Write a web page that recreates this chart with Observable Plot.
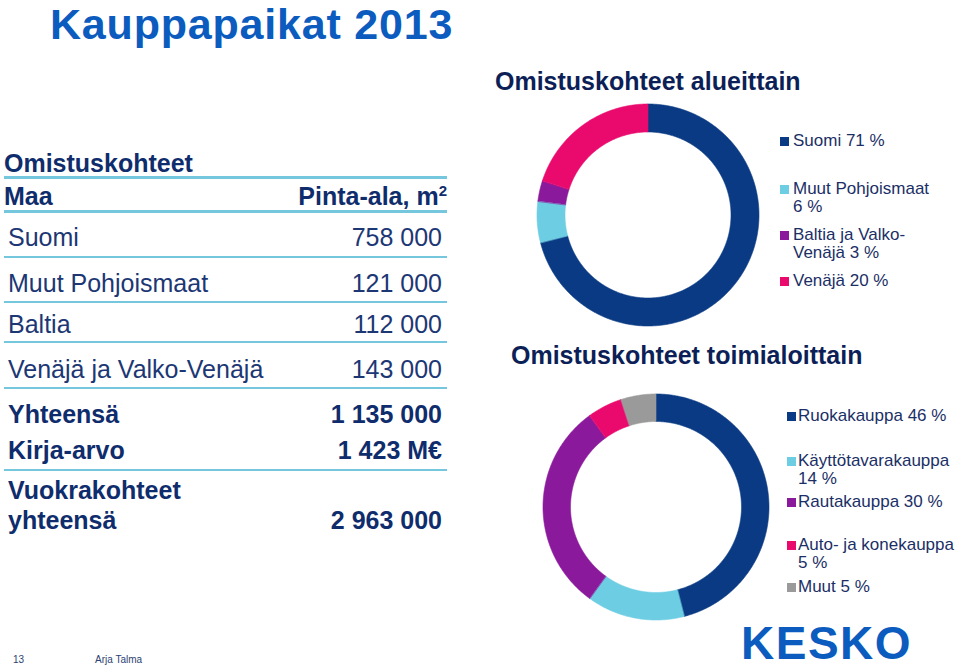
<!DOCTYPE html>
<html>
<head>
<meta charset="utf-8">
<script src="https://cdn.jsdelivr.net/npm/d3@7"></script>
<script src="https://cdn.jsdelivr.net/npm/@observablehq/plot@0.6"></script>
<style>
  html, body { margin: 0; padding: 0; background: #fff; overflow: hidden; }
  #slide { position: relative; width: 959px; height: 669px; overflow: hidden; background: #fff;
           font-family: "Liberation Sans", Arial, Helvetica, sans-serif; }
  .t { position: absolute; white-space: nowrap; }
  .rule { position: absolute; background: #74c7dc; }
  .donut { position: absolute; }
  .legend { position: absolute; font-size: 17px; line-height: 18px; color: #1b2f66; }
  .legend .item { position: absolute; left: 0; white-space: normal; }
  .legend .sw { position: absolute; width: 9px; height: 9px; }
</style>
</head>
<body>
<div id="slide"></div>
<script>
// ---------------- DATA ----------------
const slideTitle = "Kauppapaikat 2013";
const chart1Title = "Omistuskohteet alueittain";
const chart2Title = "Omistuskohteet toimialoittain";

const regionLabels = ["Suomi", "Muut Pohjoismaat", "Baltia ja Valko-Venäjä", "Venäjä"];
const regionShares = [71, 6, 3, 20];
const regionColors = ["#0a3a83", "#6dcde2", "#8a1a9b", "#ea0a6e"];

const sectorLabels = ["Ruokakauppa", "Käyttötavarakauppa", "Rautakauppa", "Auto- ja konekauppa", "Muut"];
const sectorShares = [46, 14, 30, 5, 5];
const sectorColors = ["#0a3a83", "#6dcde2", "#8a1a9b", "#ea0a6e", "#9a9a9a"];

const tableTitle = "Omistuskohteet";
const tableHeaders = ["Maa", "Pinta-ala, m"];
const tableCountries = ["Suomi", "Muut Pohjoismaat", "Baltia", "Venäjä ja Valko-Venäjä"];
const tableAreas = [758000, 121000, 112000, 143000];
const totalLabels = ["Yhteensä", "Kirja-arvo", "Vuokrakohteet yhteensä"];
const totalValues = [1135000, 1423, 2963000];
const totalUnits = ["", " M€", ""];

const footerPage = "13";
const footerAuthor = "Arja Talma";
const logoText = "KESKO";

// ---------------- LAYOUT ----------------
const slide = document.getElementById("slide");
const fmt = d3.formatLocale({decimal: ",", thousands: "\u00a0", grouping: [3], currency: ["", ""]}).format(",d");
const NAVY = "#0f2d6c", ROWC = "#1c3774", BRAND = "#0b5cbe";

function text(str, x, baseline, fs, opts = {}) {
  const lh = opts.lh || 1;
  const d = document.createElement("div");
  d.className = "t";
  d.style.fontSize = fs + "px";
  d.style.lineHeight = lh;
  d.style.fontWeight = opts.bold ? "bold" : "normal";
  d.style.color = opts.color || NAVY;
  d.style.top = (baseline - (fs * (lh - 1.117) / 2 + 0.905 * fs)) + "px";
  if (opts.align === "right") d.style.right = (959 - x) + "px"; else d.style.left = x + "px";
  if (opts.ls) d.style.letterSpacing = opts.ls + "px";
  d.innerHTML = str;
  slide.appendChild(d);
  return d;
}
function rule(y, h) {
  const d = document.createElement("div");
  d.className = "rule";
  d.style.left = "4px"; d.style.width = "443px";
  d.style.top = y + "px"; d.style.height = h + "px";
  slide.appendChild(d);
}

// titles
text(slideTitle, 50, 39.5, 43, {bold: true, color: BRAND, ls: 0.8});
text(chart1Title, 495, 90, 25, {bold: true, color: "#0d1f57"});
text(chart2Title, 511, 364, 25, {bold: true, color: "#0d1f57"});

// table
text(tableTitle, 4, 172, 25, {bold: true});
rule(176, 3);
text(tableHeaders[0], 4, 205, 25, {bold: true});
text(tableHeaders[1] + '<sup style="font-size:15px;vertical-align:9px;line-height:0">2</sup>', 447, 205, 25, {bold: true, align: "right"});
rule(210, 3);
const rowBaselines = [246, 292, 333, 378];
const rowRules = [256, 301, 341, 387];
tableCountries.forEach((c, i) => {
  text(c, 8, rowBaselines[i], 25, {color: ROWC});
  text(fmt(tableAreas[i]), 442, rowBaselines[i], 25, {color: ROWC, align: "right"});
  rule(rowRules[i], 2);
});
text(totalLabels[0], 8, 423, 25, {bold: true});
text(fmt(totalValues[0]) + totalUnits[0], 442, 423, 25, {bold: true, align: "right"});
text(totalLabels[1], 8, 459, 25, {bold: true});
text(fmt(totalValues[1]) + totalUnits[1], 442, 459, 25, {bold: true, align: "right"});
rule(469, 2);
const parts = totalLabels[2].split(" ");
text(parts[0], 8, 499, 25, {bold: true});
text(parts[1], 8, 529, 25, {bold: true});
text(fmt(totalValues[2]) + totalUnits[2], 442, 529, 25, {bold: true, align: "right"});

// donuts
function donut(labels, shares, colors, rOuter, rInner) {
  const total = d3.sum(shares);
  const pts = [];
  let acc = 0;
  labels.forEach((lab, i) => {
    const a0 = acc / total * 2 * Math.PI;
    acc += shares[i];
    const a1 = acc / total * 2 * Math.PI;
    const n = Math.max(2, Math.ceil((a1 - a0) / (Math.PI / 360)) + 1);
    for (let k = 0; k < n; k++) {
      const a = a0 + (a1 - a0) * k / (n - 1);
      pts.push({lab, x1: rOuter * Math.sin(a), y1: rOuter * Math.cos(a),
                     x2: rInner * Math.sin(a), y2: rInner * Math.cos(a)});
    }
  });
  return Plot.plot({
    width: 240, height: 240, margin: 0,
    style: {background: "transparent"},
    x: {domain: [-120, 120], axis: null},
    y: {domain: [-120, 120], axis: null},
    color: {domain: labels, range: colors},
    marks: [
      Plot.area(pts, {x1: "x1", y1: "y1", x2: "x2", y2: "y2", z: "lab", fill: "lab",
                      stroke: "lab", strokeWidth: 0.6, curve: "linear"})
    ]
  });
}
function place(el, left, top) {
  const w = document.createElement("div");
  w.className = "donut";
  w.style.left = left + "px"; w.style.top = top + "px";
  w.appendChild(el);
  slide.appendChild(w);
}
place(donut(regionLabels, regionShares, regionColors, 111, 83), 648 - 120, 215 - 120);
place(donut(sectorLabels, sectorShares, sectorColors, 113, 85.5), 656 - 120, 507 - 120);

// legends
function legend(labels, shares, colors, textX, swX, baselines, width) {
  const box = document.createElement("div");
  box.className = "legend";
  box.style.left = textX + "px"; box.style.top = "0px"; box.style.width = width + "px";
  labels.forEach((lab, i) => {
    const it = document.createElement("div");
    it.className = "item";
    it.style.top = (baselines[i] - 14.9) + "px";
    it.style.width = width + "px";
    it.textContent = lab + " " + shares[i] + "\u00a0%";
    const sw = document.createElement("span");
    sw.className = "sw";
    sw.style.background = colors[i];
    sw.style.left = (swX - textX) + "px";
    sw.style.top = "5.4px";
    it.appendChild(sw);
    box.appendChild(it);
  });
  slide.appendChild(box);
}
legend(regionLabels, regionShares, regionColors, 793, 780, [147, 195, 241, 287], 150);
legend(sectorLabels, sectorShares, sectorColors, 798, 787, [422, 467, 508, 551, 593], 160);

// footer
text(footerPage, 13, 663, 10, {color: "#2d4270"});
text(footerAuthor, 95, 663, 10, {color: "#2d4270"});
text(logoText, 741, 658.5, 46, {bold: true, color: BRAND, ls: 1.5});
</script>
</body>
</html>
